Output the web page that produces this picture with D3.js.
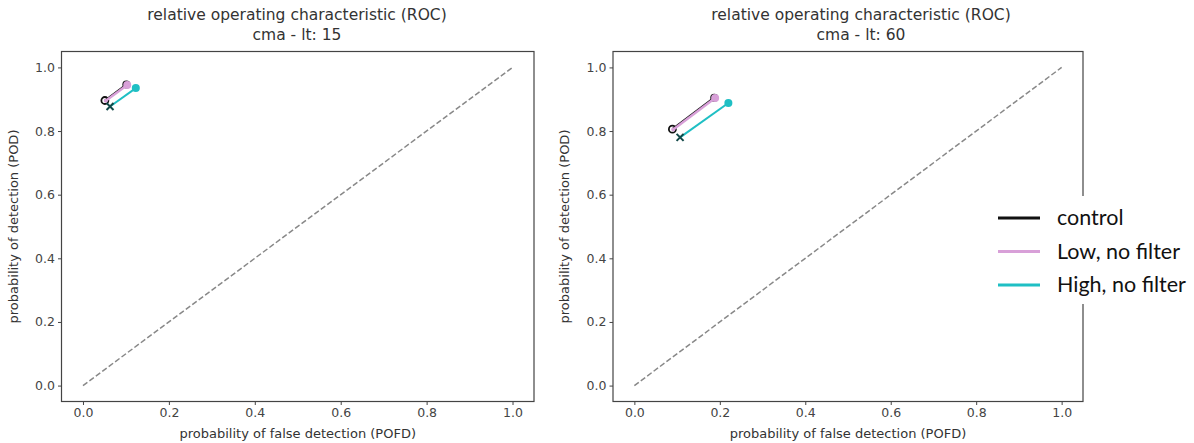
<!DOCTYPE html>
<html><head><meta charset="utf-8">
<script src="https://cdn.jsdelivr.net/npm/d3@7"></script>
<style>body{margin:0;background:#fff;} svg{display:block;}</style>
</head><body>
<svg id="c" width="1194" height="443"></svg>
<script>
const seriesNames = ["control", "Low, no filter", "High, no filter"];
const seriesColors = ["#111111", "#d8a0d8", "#1fbfc4"];
const titles = ["cma - lt: 15", "cma - lt: 60"];
const tickValues = [0.0, 0.2, 0.4, 0.6, 0.8, 1.0];
// [lower point, upper point] per series
const lt15_pofd = [[0.051, 0.101], [0.053, 0.103], [0.063, 0.123]];
const lt15_pod  = [[0.896, 0.946], [0.895, 0.945], [0.877, 0.935]];
const lt60_pofd = [[0.089, 0.187], [0.091, 0.189], [0.107, 0.220]];
const lt60_pod  = [[0.806, 0.905], [0.805, 0.904], [0.780, 0.888]];
const diagonal = [0, 1];

const svg = d3.select("#c");
const panels = [
  {pofd: lt15_pofd, pod: lt15_pod, title: titles[0], x0: 61.5, x1: 534, tx: 297},
  {pofd: lt60_pofd, pod: lt60_pod, title: titles[1], x0: 613, x1: 1083, tx: 861}
];
const plotTop = 51.5, plotBottom = 401.5;
const font = "DejaVu Sans, sans-serif";

panels.forEach(p => {
  const x = d3.scaleLinear().domain([-0.05, 1.05]).range([p.x0, p.x1]);
  const y = d3.scaleLinear().domain([-0.05, 1.05]).range([plotBottom, plotTop]);
  const g = svg.append("g");

  g.append("text").attr("x", p.tx).attr("y", 20).attr("text-anchor", "middle")
    .attr("font-family", font).attr("font-size", 15.5).attr("fill", "#333")
    .text("relative operating characteristic (ROC)");
  g.append("text").attr("x", p.tx).attr("y", 40).attr("text-anchor", "middle")
    .attr("font-family", font).attr("font-size", 15.5).attr("fill", "#333")
    .text(p.title);

  g.append("line")
    .attr("x1", x(diagonal[0])).attr("y1", y(diagonal[0]))
    .attr("x2", x(diagonal[1])).attr("y2", y(diagonal[1]))
    .attr("stroke", "#888").attr("stroke-width", 1.5).attr("stroke-dasharray", "5.5,2.5");

  const line = d3.line().x(d => x(d[0])).y(d => y(d[1]));
  seriesNames.forEach((name, i) => {
    const pts = p.pofd[i].map((v, k) => [v, p.pod[i][k]]);
    g.append("path").attr("d", line(pts)).attr("fill", "none")
      .attr("stroke", seriesColors[i]).attr("stroke-width", i === 1 ? 2.5 : 2);
    g.append("circle").attr("cx", x(pts[1][0])).attr("cy", y(pts[1][1])).attr("r", 4)
      .attr("fill", seriesColors[i]);
    if (i === 0) {
      g.append("circle").attr("cx", x(pts[0][0])).attr("cy", y(pts[0][1])).attr("r", 3.5)
        .attr("fill", "none").attr("stroke", seriesColors[i]).attr("stroke-width", 1.8);
    } else if (i === 1) {
      g.append("circle").attr("cx", x(pts[0][0])).attr("cy", y(pts[0][1])).attr("r", 2)
        .attr("fill", seriesColors[i]);
    } else {
      const cx = x(pts[0][0]), cy = y(pts[0][1]), s = 3.5;
      g.append("path").attr("d", `M${cx-s},${cy-s}L${cx+s},${cy+s}M${cx-s},${cy+s}L${cx+s},${cy-s}`)
        .attr("stroke", "#124848").attr("stroke-width", 2);
    }
  });

  const xa = g.append("g").attr("transform", `translate(0,${plotBottom})`)
    .call(d3.axisBottom(x).tickValues(tickValues).tickFormat(d3.format(".1f")).tickSize(3.5).tickPadding(3));
  const ya = g.append("g").attr("transform", `translate(${p.x0},0)`)
    .call(d3.axisLeft(y).tickValues(tickValues).tickFormat(d3.format(".1f")).tickSize(3.5).tickPadding(3));
  [xa, ya].forEach(a => {
    a.select(".domain").remove();
    a.selectAll("line").attr("stroke", "#444");
    a.selectAll("text").attr("font-family", font).attr("font-size", 12.5).attr("fill", "#444");
  });
  g.append("rect").attr("x", p.x0).attr("y", plotTop).attr("width", p.x1 - p.x0).attr("height", plotBottom - plotTop)
    .attr("fill", "none").attr("stroke", "#444").attr("stroke-width", 1.2);

  g.append("text").attr("x", (p.x0 + p.x1) / 2).attr("y", 438).attr("text-anchor", "middle")
    .attr("font-family", font).attr("font-size", 13).attr("fill", "#333")
    .text("probability of false detection (POFD)");
  g.append("text").attr("transform", `translate(${p.x0 - 44},${(plotTop + plotBottom) / 2}) rotate(-90)`)
    .attr("text-anchor", "middle").attr("font-family", font).attr("font-size", 13).attr("fill", "#333")
    .text("probability of detection (POD)");
});

const lg = svg.append("g");
lg.append("rect").attr("x", 988).attr("y", 196).attr("width", 206).attr("height", 108).attr("fill", "#fff");
seriesNames.forEach((name, i) => {
  const yy = 218 + i * 33.5;
  lg.append("line").attr("x1", 998).attr("x2", 1040).attr("y1", yy).attr("y2", yy)
    .attr("stroke", seriesColors[i]).attr("stroke-width", 3);
  lg.append("text").attr("x", 1057).attr("y", yy + 7).attr("font-family", "Lato, sans-serif")
    .attr("font-size", 21.5).attr("fill", "#111").text(name);
});
</script>
</body></html>
